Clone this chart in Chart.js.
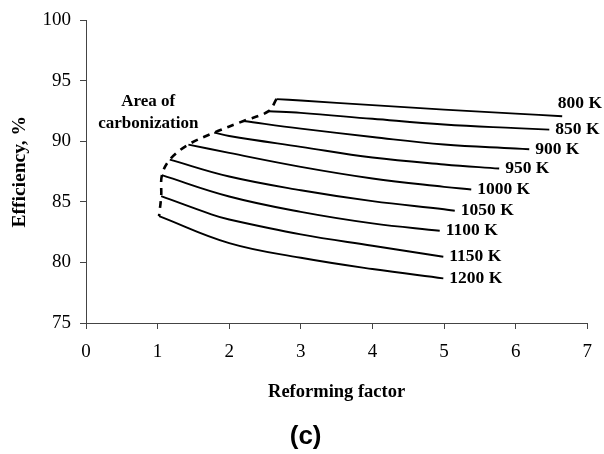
<!DOCTYPE html>
<html>
<head>
<meta charset="utf-8">
<script src="https://cdn.jsdelivr.net/npm/chart.js@4"></script>
<style>
  html, body { margin: 0; padding: 0; background: #ffffff; }
  #wrap { width: 604px; height: 454px; }
</style>
</head>
<body>
<div id="wrap"><canvas id="c" width="604" height="454"></canvas></div>
<script>
// ---- data ----
const temperatures = ['800 K', '850 K', '900 K', '950 K', '1000 K', '1050 K', '1100 K', '1150 K', '1200 K'];

const rf800  = [2.66, 3, 4, 5, 6, 6.65];
const eff800 = [93.5, 93.38, 93.0, 92.63, 92.3, 92.08];

const rf850  = [2.55, 3, 4, 5, 6, 6.47];
const eff850 = [92.5, 92.36, 91.87, 91.4, 91.1, 90.98];

const rf900  = [2.2, 3, 4, 5, 6, 6.19];
const eff900 = [91.69, 91.06, 90.37, 89.75, 89.42, 89.36];

const rf950  = [1.79, 2, 3, 4, 5, 5.77];
const eff950 = [90.73, 90.45, 89.55, 88.67, 88.1, 87.76];

const rf1000  = [1.43, 2, 3, 4, 5, 5.38];
const eff1000 = [89.74, 89.05, 87.9, 86.94, 86.25, 86.03];

const rf1050  = [1.17, 2, 3, 4, 5, 5.15];
const eff1050 = [88.5, 87.1, 85.97, 85.07, 84.4, 84.27];

const rf1100  = [1.06, 2, 3, 4, 4.94];
const eff1100 = [87.21, 85.45, 84.18, 83.23, 82.62];

const rf1150  = [1.05, 1.75, 2, 3, 4, 4.99];
const eff1150 = [85.48, 83.98, 83.55, 82.32, 81.38, 80.47];

const rf1200  = [1.02, 2, 3, 4, 4.99];
const eff1200 = [83.83, 81.6, 80.39, 79.46, 78.69];

const xTicks = [0, 1, 2, 3, 4, 5, 6, 7];
const yTicks = [75, 80, 85, 90, 95, 100];

const areaNote = ['Area of', 'carbonization'];
const areaNoteAt = { x: 0.87, y: 93.25 };
const panelLabel = '(c)';
const xTitle = 'Reforming factor';
const yTitle = 'Efficiency, %';

// ---- build datasets ----
const rfSeries  = [rf800, rf850, rf900, rf950, rf1000, rf1050, rf1100, rf1150, rf1200];
const effSeries = [eff800, eff850, eff900, eff950, eff1000, eff1050, eff1100, eff1150, eff1200];

const toPoints = (xs, ys) => xs.map((x, i) => ({ x: x, y: ys[i] }));

const datasets = temperatures.map((t, i) => ({
  label: t,
  data: toPoints(rfSeries[i], effSeries[i]),
  borderColor: '#000000',
  borderWidth: 1.9,
  pointRadius: 0,
  fill: false,
  tension: 0.4
}));

// boundary of the carbonization area: through the first point of each curve
datasets.push({
  label: 'boundary',
  data: temperatures.map((t, i) => ({ x: rfSeries[i][0], y: effSeries[i][0] })),
  borderColor: '#000000',
  borderWidth: 2.6,
  borderDash: [7, 6],
  pointRadius: 0,
  fill: false,
  tension: 0.35
});

const serif = '"Liberation Serif", "Times New Roman", serif';

const labelPlugin = {
  id: 'curveLabels',
  afterDatasetsDraw(chart) {
    const ctx = chart.ctx;
    ctx.save();
    ctx.fillStyle = '#000000';
    ctx.font = 'bold 17.5px ' + serif;
    ctx.textBaseline = 'middle';
    ctx.textAlign = 'left';
    temperatures.forEach((t, i) => {
      const meta = chart.getDatasetMeta(i);
      const last = meta.data[meta.data.length - 1];
      const w = ctx.measureText(t).width;
      let x = last.x + 6;
      let y = last.y;
      if (x + w > chart.width - 2) {
        x = chart.width - 2 - w;
        y = last.y - 13;
      }
      ctx.fillText(t, x, y);
    });
    // area note
    const sx = chart.scales.x, sy = chart.scales.y;
    const cx = sx.getPixelForValue(areaNoteAt.x);
    const cy = sy.getPixelForValue(areaNoteAt.y);
    ctx.textAlign = 'center';
    ctx.font = 'bold 17px ' + serif;
    areaNote.forEach((line, k) => ctx.fillText(line, cx, cy + k * 21.6));
    // panel label
    ctx.font = 'bold 26px "Liberation Sans", Arial, sans-serif';
    ctx.fillText(panelLabel, (chart.chartArea.left + chart.chartArea.right) / 2 - 31, chart.height - 17);
    ctx.restore();
  }
};

new Chart(document.getElementById('c'), {
  type: 'line',
  data: { datasets: datasets },
  options: {
    responsive: false,
    animation: false,
    devicePixelRatio: 1,
    layout: { padding: { left: 0, right: 12, top: 20, bottom: 44 } },
    plugins: { legend: { display: false }, tooltip: { enabled: false } },
    scales: {
      x: {
        type: 'linear',
        min: 0, max: 7,
        afterFit(scale) { scale.height = 87; },
        afterBuildTicks(scale) { scale.ticks = xTicks.map(v => ({ value: v })); },
        ticks: { color: '#000', padding: 12, font: { family: serif, size: 19 } },
        grid: { display: true, drawOnChartArea: false, drawTicks: true, tickLength: 6, color: '#444' },
        border: { display: true, color: '#444', width: 1 },
        title: { display: true, text: xTitle, color: '#000', padding: { top: 0, bottom: 7 },
                 font: { family: serif, size: 18.5, weight: 'bold' } }
      },
      y: {
        type: 'linear',
        min: 75, max: 100,
        afterFit(scale) { scale.width = 86; },
        afterBuildTicks(scale) { scale.ticks = yTicks.map(v => ({ value: v })); },
        ticks: { color: '#000', padding: 9, font: { family: serif, size: 19 } },
        grid: { display: true, drawOnChartArea: false, drawTicks: true, tickLength: 6, color: '#444' },
        border: { display: true, color: '#444', width: 1 },
        title: { display: true, text: yTitle, color: '#000', padding: { top: 8.6, bottom: 0 },
                 font: { family: serif, size: 19.5, weight: 'bold' } }
      }
    }
  },
  plugins: [labelPlugin]
});
</script>
</body>
</html>
